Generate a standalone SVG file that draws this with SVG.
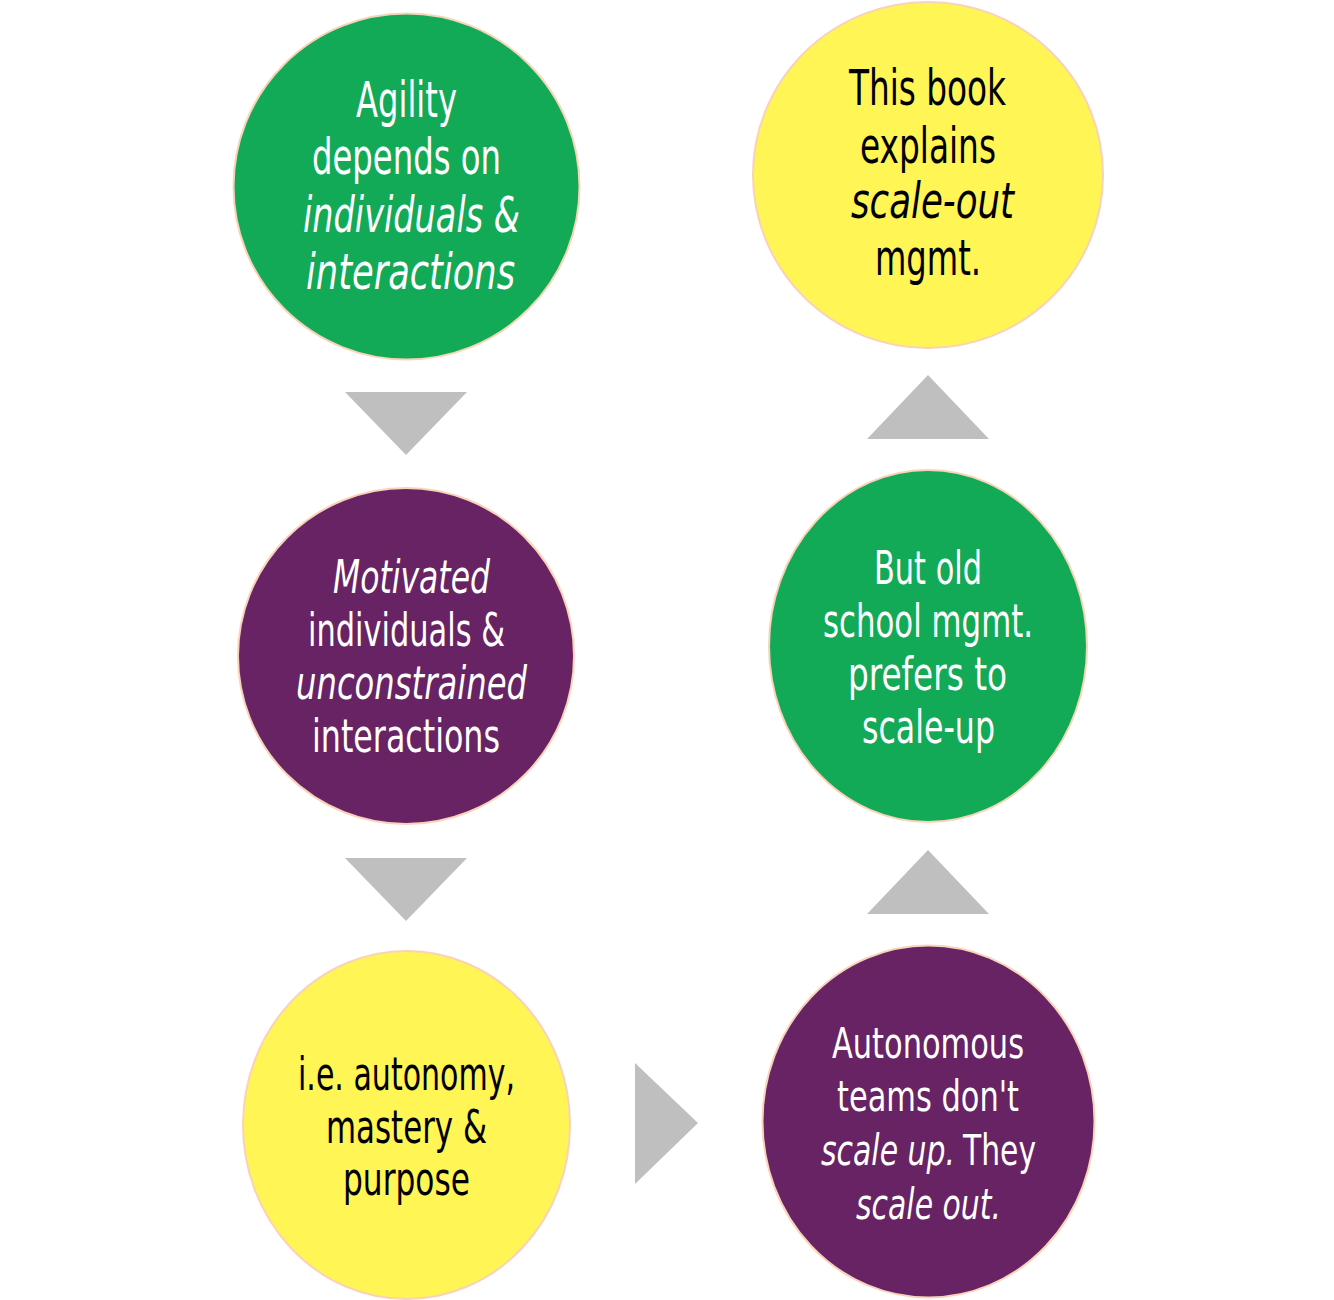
<svg xmlns="http://www.w3.org/2000/svg" width="1334" height="1300" viewBox="0 0 1334 1300">
<style>
.green{fill:#13AA57;stroke:#F8D3B8;stroke-width:2}
.purple{fill:#682365;stroke:#F8D3B8;stroke-width:2}
.yellow{fill:#FFF555;stroke:#F8D3B8;stroke-width:2}
.arrow{fill:#BFBFBF}
text{font-family:"Liberation Sans Narrow","DejaVu Sans Condensed","Liberation Sans",sans-serif;font-size:46px}
.big{font-size:49px}
.sm{font-size:43px}
.w{fill:#FFFFFF}
.k{fill:#000000}
.i{font-style:italic}
</style>
<rect width="1334" height="1300" fill="#FFFFFF"/>
<g id="connectors">
<polygon class="arrow" points="345,392 467,392 406,455"/>
<polygon class="arrow" points="345,858 467,858 406,921"/>
<polygon class="arrow" points="635,1063 635,1184 698,1123"/>
<polygon class="arrow" points="867,914 989,914 928,850"/>
<polygon class="arrow" points="867,439 989,439 928,375"/>
</g>
<g id="node1">
<circle class="green" cx="406.5" cy="186.5" r="173"/>
<text class="w big" x="356" y="117" textLength="101" lengthAdjust="spacingAndGlyphs">Agility</text>
<text class="w big" x="312" y="174" textLength="189" lengthAdjust="spacingAndGlyphs">depends on</text>
<text class="w big i" x="303" y="232" textLength="217" lengthAdjust="spacingAndGlyphs">individuals &amp;</text>
<text class="w big i" x="306" y="289" textLength="209" lengthAdjust="spacingAndGlyphs">interactions</text>
</g>
<g id="node2">
<circle class="purple" cx="406" cy="656" r="168"/>
<text class="w i" x="333" y="593" textLength="157" lengthAdjust="spacingAndGlyphs">Motivated</text>
<text class="w" x="308" y="646" textLength="197" lengthAdjust="spacingAndGlyphs">individuals &amp;</text>
<text class="w i" x="296" y="699" textLength="231" lengthAdjust="spacingAndGlyphs">unconstrained</text>
<text class="w" x="312" y="752" textLength="188" lengthAdjust="spacingAndGlyphs">interactions</text>
</g>
<g id="node3">
<ellipse class="yellow" cx="406.5" cy="1125" rx="163.5" ry="174"/>
<text class="k" x="298" y="1090" textLength="217" lengthAdjust="spacingAndGlyphs">i.e. autonomy,</text>
<text class="k" x="326" y="1143" textLength="161" lengthAdjust="spacingAndGlyphs">mastery &amp;</text>
<text class="k" x="343" y="1195" textLength="127" lengthAdjust="spacingAndGlyphs">purpose</text>
</g>
<g id="node4">
<ellipse class="purple" cx="928.5" cy="1121.5" rx="166" ry="176"/>
<text class="w sm" x="832" y="1058" textLength="192" lengthAdjust="spacingAndGlyphs">Autonomous</text>
<text class="w sm" x="837" y="1111" textLength="182" lengthAdjust="spacingAndGlyphs">teams don't</text>
<text class="w sm i" x="955" y="1165" text-anchor="end" textLength="134" lengthAdjust="spacingAndGlyphs">scale up.</text>
<text class="w sm" x="963" y="1165" textLength="73" lengthAdjust="spacingAndGlyphs">They</text>
<text class="w sm i" x="856" y="1219" textLength="145" lengthAdjust="spacingAndGlyphs">scale out.</text>
</g>
<g id="node5">
<ellipse class="green" cx="928" cy="646" rx="159" ry="176"/>
<text class="w" x="874" y="584" textLength="108" lengthAdjust="spacingAndGlyphs">But old</text>
<text class="w" x="823" y="637" textLength="210" lengthAdjust="spacingAndGlyphs">school mgmt.</text>
<text class="w" x="848" y="690" textLength="159" lengthAdjust="spacingAndGlyphs">prefers to</text>
<text class="w" x="862" y="743" textLength="133" lengthAdjust="spacingAndGlyphs">scale-up</text>
</g>
<g id="node6">
<ellipse class="yellow" cx="928" cy="175" rx="175" ry="173"/>
<text class="k big" x="849" y="105" textLength="157" lengthAdjust="spacingAndGlyphs">This book</text>
<text class="k big" x="860" y="163" textLength="136" lengthAdjust="spacingAndGlyphs">explains</text>
<text class="k big i" x="851" y="218" textLength="163" lengthAdjust="spacingAndGlyphs">scale-out</text>
<text class="k big" x="875" y="275" textLength="106" lengthAdjust="spacingAndGlyphs">mgmt.</text>
</g>
</svg>
